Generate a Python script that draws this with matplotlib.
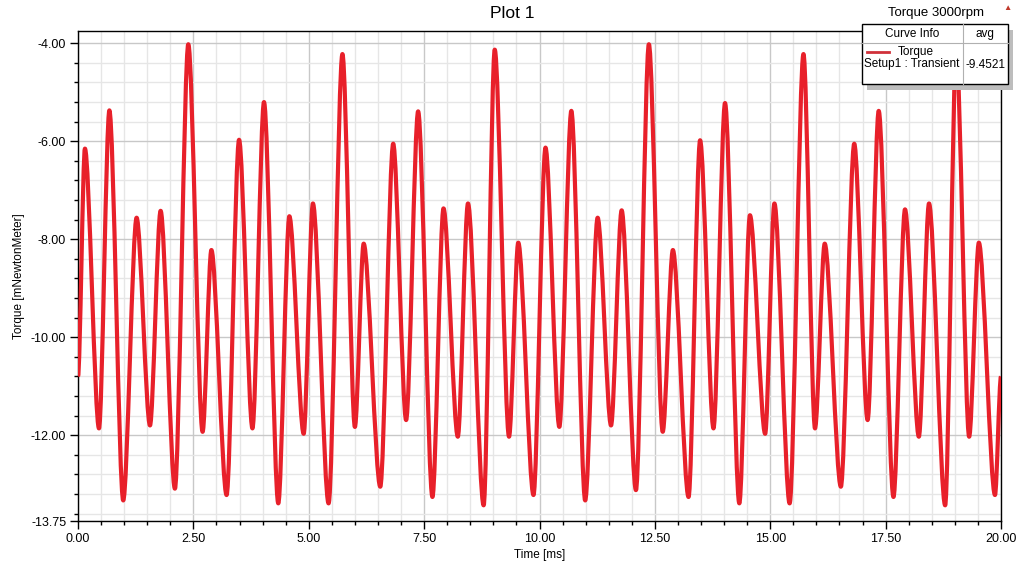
import matplotlib
matplotlib.use('Agg')
import matplotlib.pyplot as plt
from matplotlib.path import Path
from matplotlib.patches import PathPatch, Rectangle
from matplotlib.lines import Line2D
from matplotlib.ticker import MultipleLocator, FixedLocator, FormatStrFormatter

plt.rcParams['font.family'] = ['Liberation Sans', 'DejaVu Sans']

# turning points of the torque trace
time_ms = [0.00, 0.15, 0.455, 0.68, 0.98, 1.27, 1.56, 1.79, 2.10, 2.39,
           2.70, 2.89, 3.22, 3.49, 3.78, 4.03, 4.34, 4.58, 4.89, 5.09,
           5.43, 5.73, 6.00, 6.19, 6.55, 6.83, 7.11, 7.37, 7.68, 7.92,
           8.23, 8.45, 8.79, 9.03, 9.34, 9.54, 9.87, 10.13, 10.43, 10.69,
           10.99, 11.26, 11.55, 11.78, 12.09, 12.37, 12.67, 12.89, 13.23, 13.48,
           13.77, 14.02, 14.33, 14.56, 14.89, 15.09, 15.42, 15.72, 15.97, 16.18,
           16.53, 16.82, 17.11, 17.35, 17.67, 17.92, 18.22, 18.44, 18.79, 19.03,
           19.31, 19.52, 19.87, 20.00]
torque = [-10.80, -6.15, -11.86, -5.37, -13.33, -7.56, -11.80, -7.42, -13.09, -4.02,
          -11.93, -8.22, -13.22, -5.97, -11.86, -5.20, -13.39, -7.53, -11.97, -7.27,
          -13.39, -4.22, -11.83, -8.09, -13.05, -6.05, -11.69, -5.39, -13.26, -7.37,
          -12.03, -7.27, -13.43, -4.13, -12.03, -8.07, -13.22, -6.13, -11.83, -5.38,
          -13.33, -7.56, -11.80, -7.41, -13.12, -4.02, -11.93, -8.22, -13.26, -5.98,
          -11.86, -5.22, -13.39, -7.51, -11.97, -7.27, -13.39, -4.22, -11.86, -8.09,
          -13.05, -6.05, -11.69, -5.38, -13.26, -7.39, -12.03, -7.27, -13.43, -4.13,
          -12.03, -8.07, -13.22, -10.80]

y_ticks = [-4.0, -6.0, -8.0, -10.0, -12.0, -13.75]
avg_value = '-9.4521'

W, H = 1024, 568
def fx(px):
    return px / W
def fy(py):
    return 1 - py / H

fig = plt.figure(figsize=(W / 100, H / 100), dpi=100)
ax = fig.add_axes([fx(78), fy(521), (1001 - 78) / W, (521 - 31) / H])

# smooth trace through the turning points (flat tangent at each one)
verts = [(time_ms[0], torque[0])]
codes = [Path.MOVETO]
for i in range(1, len(time_ms)):
    t0, v0 = time_ms[i - 1], torque[i - 1]
    t1, v1 = time_ms[i], torque[i]
    dt = t1 - t0
    verts += [(t0 + 0.3 * dt, v0), (t1 - 0.3 * dt, v1), (t1, v1)]
    codes += [Path.CURVE4] * 3
ax.add_patch(PathPatch(Path(verts, codes), fill=False, ec='#e8202a', lw=3.0,
                       joinstyle='round', zorder=3))

ax.set_xlim(0, 20)
ax.set_ylim(-13.75, -3.75)
ax.xaxis.set_major_locator(MultipleLocator(2.5))
ax.xaxis.set_minor_locator(MultipleLocator(0.5))
ax.xaxis.set_major_formatter(FormatStrFormatter('%.2f'))
ax.yaxis.set_major_locator(FixedLocator(y_ticks))
ax.yaxis.set_minor_locator(MultipleLocator(0.4))
ax.yaxis.set_major_formatter(FormatStrFormatter('%.2f'))

ax.set_axisbelow(True)
ax.grid(which='minor', color='#e6e6e6', lw=1.0)
ax.grid(which='major', color='#c8c8c8', lw=1.0)
ax.tick_params(which='major', direction='out', length=5.5, width=1, labelsize=9,
               colors='black', pad=3)
ax.tick_params(which='minor', direction='out', length=2.8, width=1, colors='black')
for s in ax.spines.values():
    s.set_color('black')
    s.set_linewidth(1)

ax.set_xlabel('Time [ms]', fontsize=8.5, labelpad=3)
ax.set_ylabel('Torque [mNewtonMeter]', fontsize=8.5, labelpad=4)

fig.text(0.5, fy(18.5), 'Plot 1', fontsize=12.5, ha='center', va='baseline')
fig.text(fx(936), fy(16), 'Torque 3000rpm', fontsize=9.5, ha='center', va='baseline')
fig.text(fx(1007), fy(9), '\u25b2', fontsize=6, color='#c0392b', ha='center', va='center')

# curve info box
fig.add_artist(Rectangle((fx(867), fy(90)), (1013 - 867) / W, (90 - 30) / H,
                         fc='#bdbdbd', ec='none', zorder=5))
fig.add_artist(Rectangle((fx(862), fy(84)), (1008 - 862) / W, (84 - 24) / H,
                         fc='white', ec='black', lw=1, zorder=6))
fig.add_artist(Line2D([fx(862), fx(1008)], [fy(42.5), fy(42.5)], color='#b0b0b0', lw=0.8, zorder=7))
fig.add_artist(Line2D([fx(963), fx(963)], [fy(24), fy(84)], color='#b0b0b0', lw=0.8, zorder=7))
fig.add_artist(Line2D([fx(867), fx(889)], [fy(52), fy(52)], color='#d0313a', lw=2, zorder=7))
fig.text(fx(912), fy(34), 'Curve Info', fontsize=8.5, ha='center', va='center', zorder=8)
fig.text(fx(985), fy(34), 'avg', fontsize=8.5, ha='center', va='center', zorder=8)
fig.text(fx(916), fy(52.5), 'Torque', fontsize=8.5, ha='center', va='center', zorder=8)
fig.text(fx(912), fy(64.5), 'Setup1 : Transient', fontsize=8.5, ha='center', va='center', zorder=8)
fig.text(fx(985), fy(64.5), avg_value, fontsize=8.5, ha='center', va='center', zorder=8)

fig.savefig('out.png', dpi=100)
